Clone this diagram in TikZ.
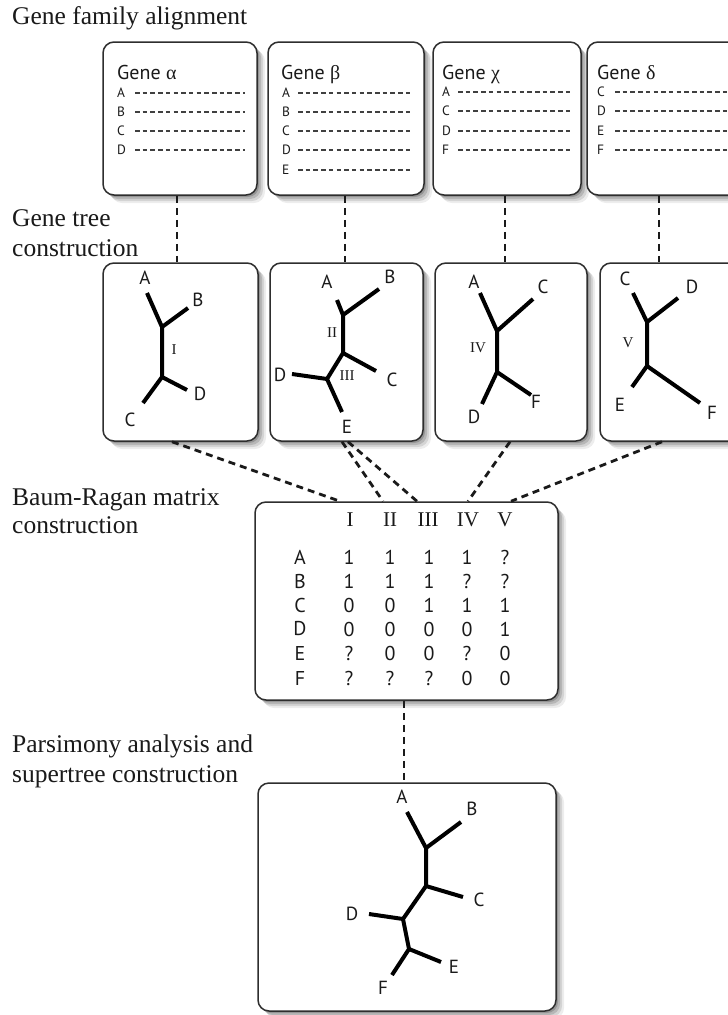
\documentclass[tikz,border=0pt]{standalone}
\usepackage{fontspec}
\setmainfont{Liberation Serif}
\setsansfont{PT Sans}
\newfontfamily\greekfont{Liberation Serif}
\usetikzlibrary{shadows}
\definecolor{ink}{HTML}{1A1A1A}
\definecolor{frame}{HTML}{2E2E2E}
\definecolor{seqgray}{HTML}{404040}
\begin{document}
\begin{tikzpicture}[x=1pt,y=-1pt,
  panel/.style={draw=frame, line width=1.5pt, rounded corners=11pt, fill=white, inner sep=0pt,
    drop shadow={shadow xshift=8pt, shadow yshift=-8pt, opacity=.07, fill=black},
    drop shadow={shadow xshift=6pt, shadow yshift=-6pt, opacity=.10, fill=black},
    drop shadow={shadow xshift=4pt, shadow yshift=-4pt, opacity=.14, fill=black},
    drop shadow={shadow xshift=2pt, shadow yshift=-2pt, opacity=.18, fill=black}},
  sect/.style={font=\fontsize{25.5}{30}\selectfont, text=ink, inner sep=0pt, anchor=base west},
  gtitle/.style={font=\sffamily\fontsize{20}{22}\selectfont, text=ink, inner sep=0pt, anchor=base west},
  seqlab/.style={font=\sffamily\fontsize{13.5}{15}\selectfont, text=ink, inner sep=0pt, anchor=west},
  seqdash/.style={draw=seqgray, line width=1.4pt, dash pattern=on 4.5pt off 3.2pt},
  leaf/.style={font=\sffamily\fontsize{19}{22}\selectfont, text=ink, inner sep=0pt},
  split/.style={font=\fontsize{15}{17}\selectfont, text=ink, inner sep=0pt},
  branch/.style={draw=black, line width=4pt, line cap=butt, line join=round},
  link/.style={draw=ink, line width=2.8pt, dash pattern=on 7pt off 5pt},
  mhead/.style={font=\fontsize{21}{23}\selectfont, text=ink, inner sep=0pt},
  mcell/.style={font=\sffamily\fontsize{20}{22}\selectfont, text=ink, inner sep=0pt}]

\useasboundingbox (0,0) rectangle (728,1015);
\clip (0,0) rectangle (728,1015);
\fill[white] (0,0) rectangle (728,1015);

% ---------- step labels ----------
\node[sect] (s1)  at (12,24)  {Gene family alignment};
\node[sect] (s2a) at (12,226) {Gene tree};
\node[sect] (s2b) at (12,256) {construction};
\node[sect] (s3a) at (12,505) {Baum-Ragan matrix};
\node[sect] (s3b) at (12,533) {construction};
\node[sect] (s4a) at (12,752) {Parsimony analysis and};
\node[sect] (s4b) at (12,782) {supertree construction};

% ---------- alignment panels ----------
\node[panel, minimum width=154pt, minimum height=153pt] (ga) at (180,118.5) {};
\node[panel, minimum width=156pt, minimum height=153pt] (gb) at (346,118.5) {};
\node[panel, minimum width=148pt, minimum height=153pt] (gc) at (507,118.5) {};
\node[panel, minimum width=158pt, minimum height=153pt] (gd) at (666,118.5) {};

\node[gtitle] (ga-t) at (117,79) {Gene {\greekfont α}};
\node[gtitle] (gb-t) at (281,79) {Gene {\greekfont β}};
\node[gtitle] (gc-t) at (442,79) {Gene {\greekfont χ}};
\node[gtitle] (gd-t) at (597,79) {Gene {\greekfont δ}};

\foreach \l/\y in {A/93,B/112,C/131,D/150} {
  \node[seqlab] (ga-\l) at (117,\y) {\l};
  \draw[seqdash] (135,\y) -- (245,\y);
}
\foreach \l/\y in {A/93,B/112,C/131,D/150,E/170} {
  \node[seqlab] (gb-\l) at (282,\y) {\l};
  \draw[seqdash] (298,\y) -- (411,\y);
}
\foreach \l/\y in {A/92,C/111,D/131,F/150} {
  \node[seqlab] (gc-\l) at (442,\y) {\l};
  \draw[seqdash] (458,\y) -- (570,\y);
}
\foreach \l/\y in {C/92,D/111,E/131,F/150} {
  \node[seqlab] (gd-\l) at (597,\y) {\l};
  \draw[seqdash] (615,\y) -- (736,\y);
}

% ---------- gene tree panels ----------
\node[panel, minimum width=155pt, minimum height=178pt] (ta) at (180.5,352) {};
\node[panel, minimum width=153pt, minimum height=178pt] (tb) at (346.5,352) {};
\node[panel, minimum width=152pt, minimum height=178pt] (tc) at (511,352) {};
\node[panel, minimum width=155pt, minimum height=178pt] (td) at (677.5,352) {};

% tree for gene alpha
\coordinate (aA) at (147,293); \coordinate (a1) at (162,327); \coordinate (aB) at (188,308);
\coordinate (a2) at (162,377); \coordinate (aD) at (187,390); \coordinate (aC) at (143,403);
\draw[branch] (aA) -- (a1) -- (a2) -- (aC);
\draw[branch] (aB) -- (a1);
\draw[branch] (aD) -- (a2);
\node[leaf] (ta-A) at (145,278) {A};
\node[leaf] (ta-B) at (198,300) {B};
\node[leaf] (ta-D) at (200,394) {D};
\node[leaf] (ta-C) at (130,420) {C};
\node[split] (ta-I) at (174,350) {I};

% tree for gene beta
\coordinate (bA) at (337,300); \coordinate (b1) at (343,315); \coordinate (bB) at (379,289);
\coordinate (b2) at (343,353); \coordinate (bC) at (376,371); \coordinate (b3) at (327,379);
\coordinate (bD) at (292,374); \coordinate (bE) at (342,412);
\draw[branch] (bA) -- (b1) -- (b2) -- (b3) -- (bE);
\draw[branch] (bB) -- (b1);
\draw[branch] (bC) -- (b2);
\draw[branch] (bD) -- (b3);
\node[leaf] (tb-A) at (327,282) {A};
\node[leaf] (tb-B) at (390,277) {B};
\node[leaf] (tb-C) at (392,380) {C};
\node[leaf] (tb-D) at (280,375) {D};
\node[leaf] (tb-E) at (347,427) {E};
\node[split] (tb-II) at (332,333) {II};
\node[split] (tb-III) at (347,376) {III};

% tree for gene chi
\coordinate (cA) at (480,293); \coordinate (c1) at (497,331); \coordinate (cC) at (533,299);
\coordinate (c2) at (497,372); \coordinate (cF) at (531,395); \coordinate (cD) at (482,404);
\draw[branch] (cA) -- (c1) -- (c2) -- (cD);
\draw[branch] (cC) -- (c1);
\draw[branch] (cF) -- (c2);
\node[leaf] (tc-A) at (474,282) {A};
\node[leaf] (tc-C) at (543,287) {C};
\node[leaf] (tc-F) at (536,402) {F};
\node[leaf] (tc-D) at (474,417) {D};
\node[split] (tc-IV) at (478,348) {IV};

% tree for gene delta
\coordinate (dC) at (633,293); \coordinate (d1) at (647,322); \coordinate (dD) at (678,298);
\coordinate (d2) at (647,366); \coordinate (dE) at (632,387); \coordinate (dF) at (700,403);
\draw[branch] (dC) -- (d1) -- (d2) -- (dE);
\draw[branch] (dD) -- (d1);
\draw[branch] (dF) -- (d2);
\node[leaf] (td-C) at (625,279) {C};
\node[leaf] (td-D) at (692,287) {D};
\node[leaf] (td-E) at (620,405) {E};
\node[leaf] (td-F) at (712,413) {F};
\node[split] (td-V) at (628,343) {V};

% ---------- matrix panel ----------
\node[panel, minimum width=303pt, minimum height=198pt] (mx) at (406.5,601) {};
\foreach \h/\x in {I/350,II/390,III/428,IV/468,V/505}
  \node[mhead] (mx-\h) at (\x,520) {\h};
\foreach \r/\y/\a/\b/\c/\d/\e in {A/557/1/1/1/1/?, B/581/1/1/1/?/?, C/605/0/0/1/1/1,
                                 D/629/0/0/0/0/1, E/653/?/0/0/?/0, F/678/?/?/?/0/0} {
  \node[mcell] (mx-\r) at (300,\y) {\r};
  \node[mcell] at (349,\y) {\a};
  \node[mcell] at (390,\y) {\b};
  \node[mcell] at (429,\y) {\c};
  \node[mcell] at (467,\y) {\d};
  \node[mcell] at (505,\y) {\e};
}

% ---------- supertree panel ----------
\node[panel, minimum width=298pt, minimum height=228pt] (st) at (407,897) {};
\coordinate (sA) at (407,812); \coordinate (s1n) at (426,848); \coordinate (sB) at (461,822);
\coordinate (s2n) at (426,886); \coordinate (sC) at (463,897); \coordinate (s3n) at (403,919);
\coordinate (sD) at (369,914); \coordinate (s4n) at (409,949); \coordinate (sE) at (441,962);
\coordinate (sF) at (392,975);
\draw[branch] (sA) -- (s1n) -- (s2n) -- (s3n) -- (s4n) -- (sF);
\draw[branch] (sB) -- (s1n);
\draw[branch] (sC) -- (s2n);
\draw[branch] (sD) -- (s3n);
\draw[branch] (sE) -- (s4n);
\node[leaf] (st-A) at (402,797) {A};
\node[leaf] (st-B) at (472,809) {B};
\node[leaf] (st-C) at (479,900) {C};
\node[leaf] (st-D) at (352,914) {D};
\node[leaf] (st-E) at (454,967) {E};
\node[leaf] (st-F) at (383,988) {F};

% ---------- dashed connectors ----------
\draw[link] ([xshift=-3pt]ga.south) -- ([xshift=-3.5pt]ta.north);
\draw[link] ([xshift=-1pt]gb.south) -- ([xshift=-1.5pt]tb.north);
\draw[link] ([xshift=-2pt]gc.south) -- ([xshift=-6pt]tc.north);
\draw[link] ([xshift=-7pt]gd.south) -- ([xshift=-18.5pt]td.north);

\draw[link] ([xshift=-8.5pt]ta.south) -- ([xshift=-66.5pt]mx.north);
\draw[link] ([xshift=-4.5pt]tb.south) -- ([xshift=-23.5pt]mx.north);
\draw[link] ([xshift=1.5pt]tb.south)  -- ([xshift=10.5pt]mx.north);
\draw[link] ([xshift=-1pt]tc.south)   -- ([xshift=61.5pt]mx.north);
\draw[link] ([xshift=-15.5pt]td.south) -- ([xshift=104.5pt]mx.north);

\draw[link] ([xshift=-2.5pt]mx.south) -- ([xshift=-3pt]st.north);
\end{tikzpicture}
\end{document}
